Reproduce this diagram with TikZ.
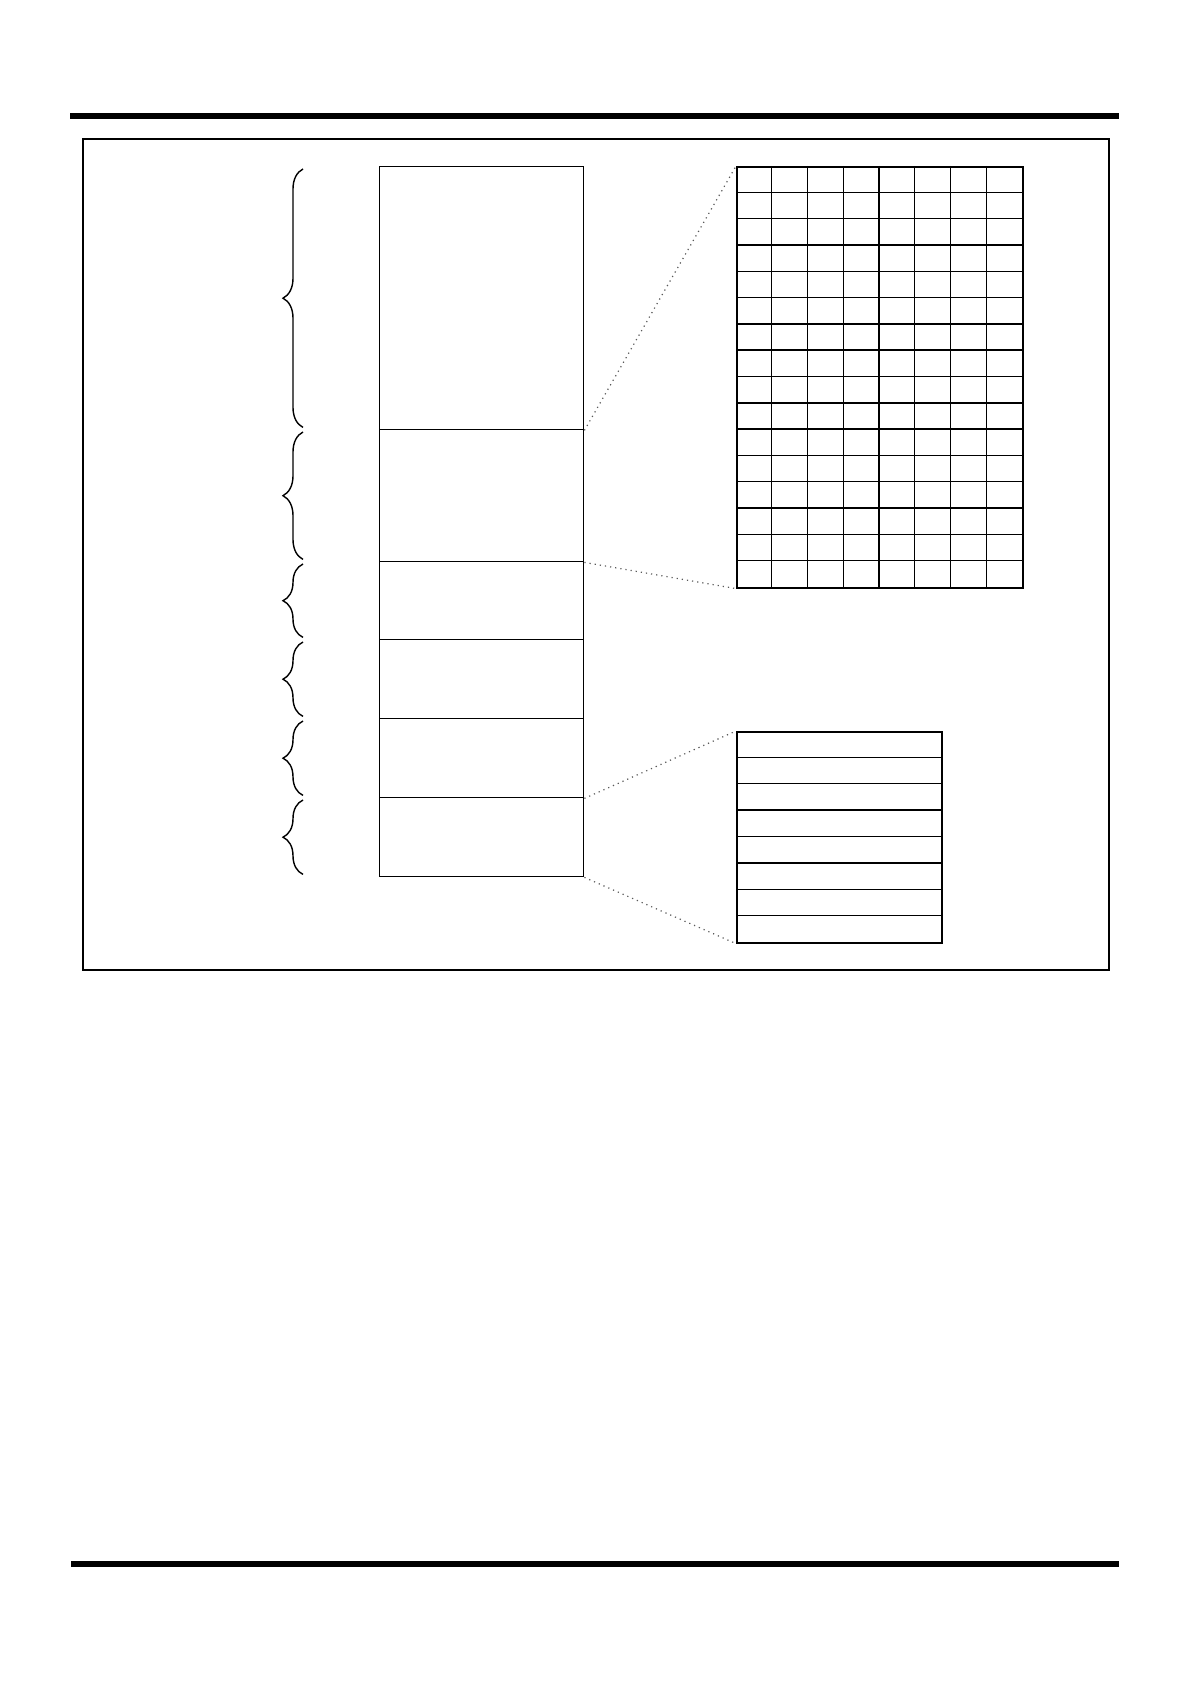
\documentclass[tikz,border=0pt]{standalone}
\usepackage{tikz}
\usetikzlibrary{decorations.pathreplacing}

\tikzset{
  part/.style={draw,line width=0.7pt,inner sep=0pt,anchor=north west,minimum width=102pt},
  box/.style={draw,line width=0.8pt,inner sep=0pt,anchor=north west},
  zoomline/.style={dotted,gray!70!black,line width=0.6pt},
  curly/.style={decorate,decoration={brace,amplitude=10pt},line width=0.7pt}
}

\begin{document}
\begin{tikzpicture}[x=0.5pt,y=-0.5pt]
\useasboundingbox (0,0) rectangle (1191,1684);
\fill (70,113) rectangle (1119,119);
\fill (71,1561) rectangle (1119,1567);
\draw[line width=0.7pt] (83,139) rectangle (1109,970);

\node[part,minimum height=131.5pt] (p1) at (379,166) {};
\node[part,minimum height=66pt] (p2) at (379,429) {};
\node[part,minimum height=39pt] (p3) at (379,561) {};
\node[part,minimum height=39.5pt] (p4) at (379,639) {};
\node[part,minimum height=39.5pt] (p5) at (379,718) {};
\node[part,minimum height=39.5pt] (p6) at (379,797) {};

\foreach \p in {p1,p2,p3,p4,p5,p6}
  \draw[curly] ([xshift=-38pt,yshift=1.5pt]\p.south west) -- ([xshift=-38pt,yshift=-1.5pt]\p.north west);

\node[box,minimum width=143pt,minimum height=210.5pt] (grid) at (736,166) {};
\foreach \i in {1,...,7}
  \draw[line width=0.7pt] (736+\i*35.75,166) -- (736+\i*35.75,587);
\foreach \j in {1,...,15}
  \draw[line width=0.7pt] (736,166+\j*26.3125) -- (1022,166+\j*26.3125);

\node[box,minimum width=102.5pt,minimum height=105.5pt] (table) at (736,731) {};
\foreach \j in {1,...,7}
  \draw[line width=0.7pt] (736,731+\j*26.375) -- (941,731+\j*26.375);

\draw[zoomline] (p1.south east) -- (grid.north west);
\draw[zoomline] (p2.south east) -- (grid.south west);
\draw[zoomline] (p5.south east) -- (table.north west);
\draw[zoomline] (p6.south east) -- (table.south west);
\end{tikzpicture}
\end{document}
